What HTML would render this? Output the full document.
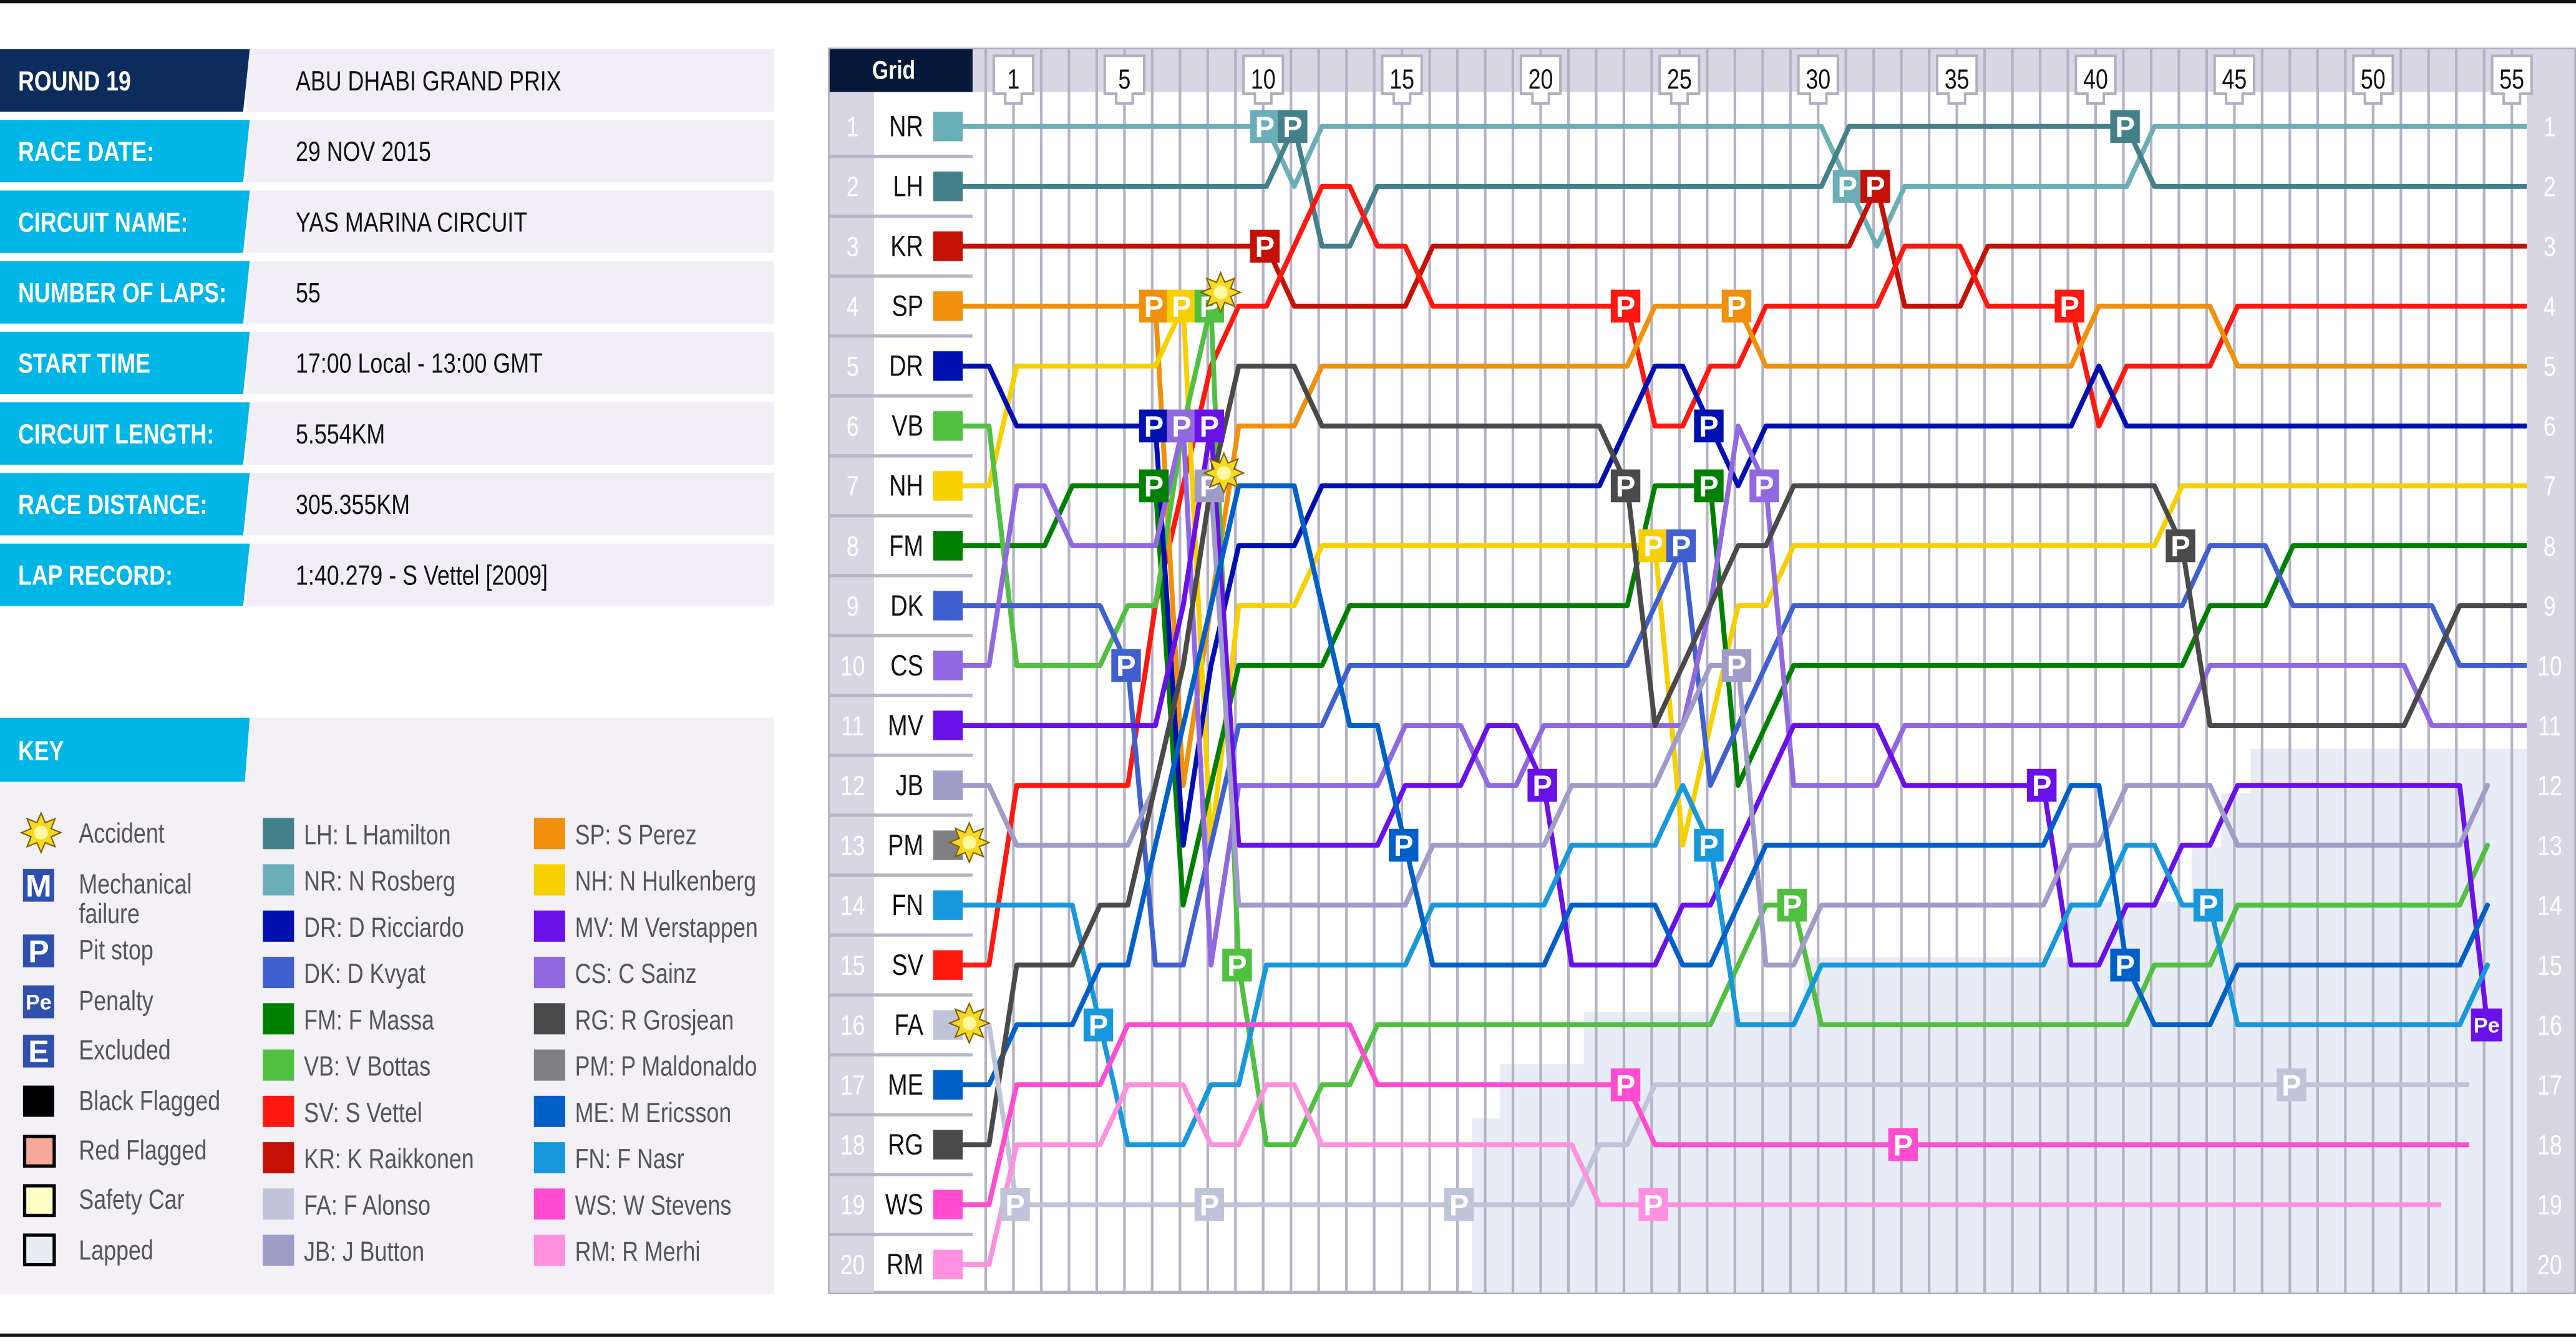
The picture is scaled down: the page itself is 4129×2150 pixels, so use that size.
<!DOCTYPE html>
<html><head><meta charset="utf-8"><style>
html,body{margin:0;padding:0;background:#fff;}
svg{display:block;}
text{font-family:"Liberation Sans",sans-serif;}
</style></head><body>
<svg id="s" xmlns="http://www.w3.org/2000/svg" width="4129" height="2150" viewBox="0 0 1568 816.5" preserveAspectRatio="none">
<rect x="0" y="0" width="1568" height="817" fill="#fff"/>
<rect x="0" y="0" width="1568" height="2" fill="#111"/>
<rect x="0" y="812" width="1568" height="2" fill="#111"/>
<g id="info"></g>
<g id="key"></g>
<g id="chart"></g>
</svg>
<script>
var NS="http://www.w3.org/2000/svg";var SC=0.8;
function el(par,tag,attrs,txt){var e=document.createElementNS(NS,tag);for(var k in attrs)e.setAttribute(k,attrs[k]);if(txt!==undefined)e.textContent=txt;par.appendChild(e);return e;}
function tx(par,x,y,attrs,txt){attrs.x=(x/SC).toFixed(2);attrs.y=y;attrs.transform="scale("+SC+",1)";return el(par,'text',attrs,txt);}
var info=document.getElementById('info'),key=document.getElementById('key'),ch=document.getElementById('chart');
var rows=[["ROUND 19","ABU DHABI GRAND PRIX"],["RACE DATE:","29 NOV 2015"],["CIRCUIT NAME:","YAS MARINA CIRCUIT"],["NUMBER OF LAPS:","55"],["START TIME","17:00 Local - 13:00 GMT"],["CIRCUIT LENGTH:","5.554KM"],["RACE DISTANCE:","305.355KM"],["LAP RECORD:","1:40.279 - S Vettel [2009]"]];
rows.forEach(function(r,i){var c=49+43*i;var t=c-19,b=c+19;
 el(info,'rect',{x:150,y:t,width:321,height:38,fill:'#f1eef5'});
 el(info,'polygon',{points:"0,"+t+" 152,"+t+" 148,"+b+" 0,"+b,fill:i==0?'#0c2c5e':'#00b6e6'});
 tx(info,11,c+6,{fill:'#fff','font-size':17,'font-weight':'bold'},r[0]);
 tx(info,180,c+6,{fill:'#111','font-size':17},r[1]);
});
el(key,'rect',{x:0,y:437,width:471,height:351,fill:'#f3f0f6'});
el(key,'polygon',{points:"0,437 152,437 149,476 0,476",fill:'#00b6e6'});
tx(key,11,463,{fill:'#fff','font-size':17,'font-weight':'bold'},"KEY");
function star(g,cx,cy,r){var p=[];for(var i=0;i<16;i++){var a=i*Math.PI/8-Math.PI/2;var rr=i%2?r*0.55:r;p.push((cx+rr*Math.cos(a)).toFixed(1)+","+(cy+rr*Math.sin(a)).toFixed(1));}
 el(g,'polygon',{points:p.join(' '),fill:'#f8d820',stroke:'#806000','stroke-width':0.8});el(g,'circle',{cx:cx,cy:cy,r:r*0.35,fill:'#fff8a0'});}
star(key,25,507,12);
function box(g,x,y,w,h,fill,txt,fs,stroke){el(g,'rect',{x:x,y:y,width:w,height:h,fill:fill,stroke:stroke||'none','stroke-width':stroke?2:0});if(txt)el(g,'text',{x:x+w/2,y:y+h/2+fs*0.36,fill:'#fff','font-size':fs,'font-weight':'bold','text-anchor':'middle'},txt);}
box(key,14,529,19,20,'#3050b0','M',19);box(key,14,569,19,20,'#3050b0','P',19);box(key,14,600,19,20,'#3050b0','Pe',13);box(key,14,630,19,20,'#3050b0','E',19);
box(key,14,661,19,19,'#000');box(key,15,692,18,18,'#f8a898','',0,'#000');box(key,15,722,18,18,'#ffffc8','',0,'#000');box(key,15,752,18,18,'#e8ecf6','',0,'#000');
var k1=[["Accident",513],["Mechanical",544],["failure",562],["Pit stop",584],["Penalty",615],["Excluded",645],["Black Flagged",676],["Red Flagged",706],["Safety Car",736],["Lapped",767]];
k1.forEach(function(k){tx(key,48,k[1],{fill:'#555','font-size':17},k[0]);});
var k2=[["#44808a","LH: L Hamilton"],["#6aafb7","NR: N Rosberg"],["#0010b0","DR: D Ricciardo"],["#4060d0","DK: D Kvyat"],["#008000","FM: F Massa"],["#50c040","VB: V Bottas"],["#ff1810","SV: S Vettel"],["#c41005","KR: K Raikkonen"],["#c0c4d8","FA: F Alonso"],["#a09cc8","JB: J Button"]];
var k3=[["#f0900c","SP: S Perez"],["#f8d000","NH: N Hulkenberg"],["#6a10e8","MV: M Verstappen"],["#9068e0","CS: C Sainz"],["#4a4a4a","RG: R Grosjean"],["#808084","PM: P Maldonaldo"],["#0060c8","ME: M Ericsson"],["#1898dc","FN: F Nasr"],["#ff4cd0","WS: W Stevens"],["#ff90e0","RM: R Merhi"]];
for(var i=0;i<10;i++){var cy=508+28.2*i;
 el(key,'rect',{x:160,y:cy-10,width:19,height:19,fill:k2[i][0]});tx(key,185,cy+6,{fill:'#555','font-size':17},k2[i][1]);
 el(key,'rect',{x:325,y:cy-10,width:19,height:19,fill:k3[i][0]});tx(key,350,cy+6,{fill:'#555','font-size':17},k3[i][1]);}
function XL(l){return 600+16.89*l;}
function Y(p){return 77+36.47*(p-1);}
el(ch,'rect',{x:505,y:30,width:1062,height:757,fill:'#fff',stroke:'#b0aec0','stroke-width':2});
el(ch,'rect',{x:592,y:30,width:975,height:26,fill:'#d8d6e2'});
el(ch,'polygon',{points:"896,787 896,681 913,681 913,648 964,648 964,616 1098,616 1098,583 1259,583 1259,549 1334,549 1334,516 1352,516 1352,483 1370,483 1370,456 1538,456 1538,787",fill:'#e8ecf6'});
for(var l=0;l<=55;l++){el(ch,'line',{x1:XL(l),y1:30,x2:XL(l),y2:787,stroke:'#b4b2c4','stroke-width':1.6});}
el(ch,'rect',{x:1538,y:56,width:29,height:731,fill:'#d8d6e2'});
[1,5,10,15,20,25,30,35,40,45,50,55].forEach(function(l){var x=XL(l);
 el(ch,'polygon',{points:(x-12)+",34 "+(x+12)+",34 "+(x+12)+",57 "+(x+5)+",57 "+(x+5)+",63 "+(x-5)+",63 "+(x-5)+",57 "+(x-12)+",57",fill:'#fff',stroke:'#b0aec0','stroke-width':1.5});
 tx(ch,x,54,{'font-size':17,'text-anchor':'middle',fill:'#111'},l);});
el(ch,'rect',{x:505,y:30,width:87,height:26,fill:'#06183a'});
tx(ch,544,48,{fill:'#fff','font-size':16,'font-weight':'bold','text-anchor':'middle'},"Grid");
var grid=["NR","LH","KR","SP","DR","VB","NH","FM","DK","CS","MV","JB","PM","FN","SV","FA","ME","RG","WS","RM"];
var col={NR:"#6aafb7",LH:"#44808a",KR:"#c41005",SP:"#f0900c",DR:"#0010b0",VB:"#50c040",NH:"#f8d000",FM:"#008000",DK:"#4060d0",CS:"#9068e0",MV:"#6a10e8",JB:"#a09cc8",PM:"#808084",FN:"#1898dc",SV:"#ff1810",FA:"#c0c4d8",ME:"#0060c8",RG:"#4a4a4a",WS:"#ff4cd0",RM:"#ff90e0"};
el(ch,'rect',{x:505,y:56,width:27,height:731,fill:'#d8d6e2'});
for(var p=1;p<=20;p++){var y=Y(p);
 tx(ch,519,y+6,{fill:'#fff','font-size':17,'text-anchor':'middle'},p);
 tx(ch,1552,y+6,{fill:'#fff','font-size':17,'text-anchor':'middle'},p);
 tx(ch,562,y+6,{fill:'#111','font-size':18,'text-anchor':'end'},grid[p-1]);
 el(ch,'rect',{x:568,y:y-9,width:18,height:18,fill:col[grid[p-1]]});
 if(p<20)el(ch,'line',{x1:505,y1:y+18.2,x2:592,y2:y+18.2,stroke:'#b8b6c6','stroke-width':2});}
var D={
NR:[[0,1],[11,2],[12,1],[31,2],[32,3],[33,2],[42,1]],
LH:[[0,2],[11,1],[12,3],[14,2],[31,1],[42,2]],
KR:[[0,3],[11,4],[16,3],[32,2],[33,4],[36,3]],
SV:[[0,15],[1,12],[6,9],[7,7],[8,5],[9,4],[11,3],[12,2],[14,3],[16,4],[24,6],[26,5],[28,4],[33,3],[36,4],[40,6],[41,5],[45,4]],
SP:[[0,4],[7,12],[8,9],[9,6],[12,5],[24,4],[28,5],[40,4],[45,5]],
NH:[[0,7],[1,5],[7,4],[8,13],[9,9],[12,8],[25,13],[26,11],[27,9],[29,8],[43,7]],
FM:[[0,8],[3,7],[7,14],[8,12],[9,10],[13,9],[24,7],[27,12],[28,11],[29,10],[44,9],[47,8]],
VB:[[0,6],[1,10],[5,9],[7,6],[8,4],[9,15],[10,18],[12,17],[14,16],[27,15],[28,14],[30,16],[42,15],[45,14],[54,13]],
DR:[[0,5],[1,6],[7,13],[8,10],[9,8],[12,7],[23,6],[24,5],[26,6],[27,7],[28,6],[40,5],[41,6]],
DK:[[0,9],[5,10],[6,15],[8,13],[9,11],[13,10],[24,9],[25,8],[26,12],[27,11],[28,10],[29,9],[44,8],[47,9],[53,10]],
CS:[[0,10],[1,7],[3,8],[7,6],[8,15],[9,12],[15,11],[18,12],[20,11],[26,9],[27,6],[28,7],[29,12],[33,11],[44,10],[52,11]],
MV:[[0,11],[7,9],[8,6],[9,13],[15,12],[18,11],[20,12],[21,15],[25,14],[27,13],[28,12],[29,11],[33,12],[39,15],[41,14],[43,13],[45,12],[54,16]],
JB:[[0,12],[1,13],[6,12],[7,10],[8,7],[9,14],[16,13],[21,12],[25,11],[26,10],[28,15],[30,14],[39,13],[41,12],[45,13],[54,12]],
FN:[[0,14],[4,16],[5,18],[8,17],[10,15],[16,14],[21,13],[25,12],[26,13],[27,16],[30,15],[39,14],[41,13],[43,14],[45,16],[54,15]],
ME:[[0,17],[1,16],[4,15],[6,13],[7,11],[8,9],[9,7],[12,9],[13,11],[15,13],[16,15],[21,14],[25,15],[27,14],[28,13],[39,12],[41,15],[42,16],[45,15],[54,14]],
RG:[[0,18],[1,15],[4,14],[6,12],[7,10],[8,7],[9,5],[12,6],[23,7],[24,11],[25,10],[26,9],[27,8],[29,7],[43,8],[44,11],[52,10],[53,9]],
FA:[[0,16],[1,19],[22,18],[24,17]],
WS:[[0,19],[1,17],[5,16],[14,17],[24,18]],
RM:[[0,20],[1,18],[5,17],[8,18],[10,17],[12,18],[22,19]]};
var ends={VB:[54,1513],JB:[54,1513],FN:[54,1513],ME:[54,1513],MV:[54,1513],FA:[53,1503],WS:[53,1503],RM:[52,1486]};
var lines=el(ch,'g',{});
Object.keys(D).forEach(function(d){var kf=D[d];var e=ends[d]||[55,1538];var pts=[];
 var cur=kf[0][1];pts.push("586,"+Y(cur).toFixed(1));
 var ki=0;for(var l=0;l<=e[0];l++){while(ki<kf.length&&kf[ki][0]<=l){cur=kf[ki][1];ki++;}pts.push((XL(l)+2).toFixed(1)+","+Y(cur).toFixed(1));}
 pts.push(e[1]+","+Y(cur).toFixed(1));
 el(lines,'polyline',{points:pts.join(' '),fill:'none',stroke:col[d],'stroke-width':3,'stroke-linejoin':'round'});});
var P=[["NR",10,1],["NR",31,2],["LH",11,1],["LH",41,1],["KR",10,3],["KR",32,2],["SP",6,4],["SP",27,4],["NH",7,4],["NH",24,8],["VB",8,4],["VB",9,15],["VB",29,14],["DR",6,6],["DR",26,6],["CS",7,6],["CS",28,7],["MV",8,6],["MV",20,12],["MV",38,12],["FM",6,7],["FM",26,7],["JB",8,7],["JB",27,10],["DK",5,10],["DK",25,8],["SV",23,4],["SV",39,4],["RG",23,7],["RG",43,8],["ME",15,13],["ME",41,15],["FN",4,16],["FN",26,13],["FN",44,14],["FA",1,19],["FA",8,19],["FA",17,19],["FA",47,17],["WS",23,17],["WS",33,18],["RM",24,19]];
P.forEach(function(q){box(ch,XL(q[1])-8,Y(q[2])-10,18,20,col[q[0]],'P',18);});
box(ch,XL(54)-8,Y(16)-10,19,20,col.MV,'Pe',13);
star(ch,743,178,12);star(ch,745,288,12);star(ch,590,513,12);star(ch,590,623,12);
</script>
</body></html>
